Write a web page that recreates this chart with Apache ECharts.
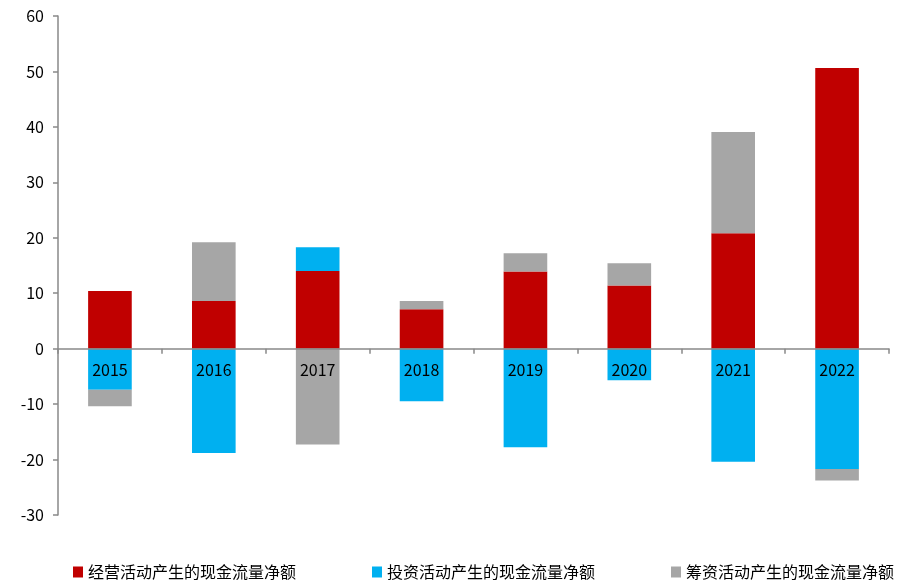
<!DOCTYPE html>
<html><head><meta charset="utf-8">
<script src="https://cdn.jsdelivr.net/npm/echarts@6/dist/echarts.min.js"></script>
<style>html,body{margin:0;padding:0;background:#fff}#c{width:898px;height:583px}</style>
</head><body><div id="c"></div>
<script>
const categories = ['2015','2016','2017','2018','2019','2020','2021','2022'];
const operating = [10.4, 8.6, 14.0, 7.1, 13.9, 11.4, 20.8, 50.6];
const investing = [-7.4, -18.8, 4.3, -9.5, -17.8, -5.7, -20.4, -21.7];
const financing = [-3.0, 10.6, -17.3, 1.5, 3.3, 4.0, 18.3, -2.1];
const seriesNames = ['经营活动产生的现金流量净额','投资活动产生的现金流量净额','筹资活动产生的现金流量净额'];
const yTicks = {min: -30, max: 60, interval: 10};

const W = 898, H = 583;
const gridTop = 16, gridBottom = 68;
const gridH = H - gridTop - gridBottom;
// distance from grid bottom to the zero line, so the category axis sits on zero
const zeroOffset = -gridH * (0 - yTicks.min) / (yTicks.max - yTicks.min);

const font = '"Noto Sans CJK SC", "Noto Sans", sans-serif';
const chart = echarts.init(document.getElementById('c'));
chart.setOption({
  animation: false,
  color: ['#C00000', '#00B0F0', '#A6A6A6'],
  grid: {left: 58, right: 9, top: gridTop, bottom: gridBottom, containLabel: false},
  legend: {
    bottom: 0, left: 68, width: 830, padding: [3, 0, 3, 5], itemGap: 76, itemWidth: 10, itemHeight: 11,
    icon: 'rect',
    textStyle: {fontFamily: font, fontSize: 16, color: '#000'},
    data: seriesNames
  },
  xAxis: {
    type: 'category', data: categories, z: 10, offset: zeroOffset,
    axisLine: {onZero: false, lineStyle: {color: '#898989', width: 1.5}},
    axisTick: {show: true, length: 5, lineStyle: {color: '#898989', width: 1.5}},
    axisLabel: {margin: 13, fontFamily: font, fontSize: 16, color: '#000'},
    splitLine: {show: false}
  },
  yAxis: {
    type: 'value', min: yTicks.min, max: yTicks.max, interval: yTicks.interval,
    axisLine: {show: true, lineStyle: {color: '#898989', width: 1.5}},
    axisTick: {show: true, length: 5, lineStyle: {color: '#898989', width: 1.5}},
    axisLabel: {margin: 14, fontFamily: font, fontSize: 16, color: '#000'},
    splitLine: {show: false}
  },
  series: [
    {name: seriesNames[0], type: 'bar', stack: 'cf', data: operating, barWidth: '42%'},
    {name: seriesNames[1], type: 'bar', stack: 'cf', data: investing, barWidth: '42%'},
    {name: seriesNames[2], type: 'bar', stack: 'cf', data: financing, barWidth: '42%'}
  ]
});
</script></body></html>
